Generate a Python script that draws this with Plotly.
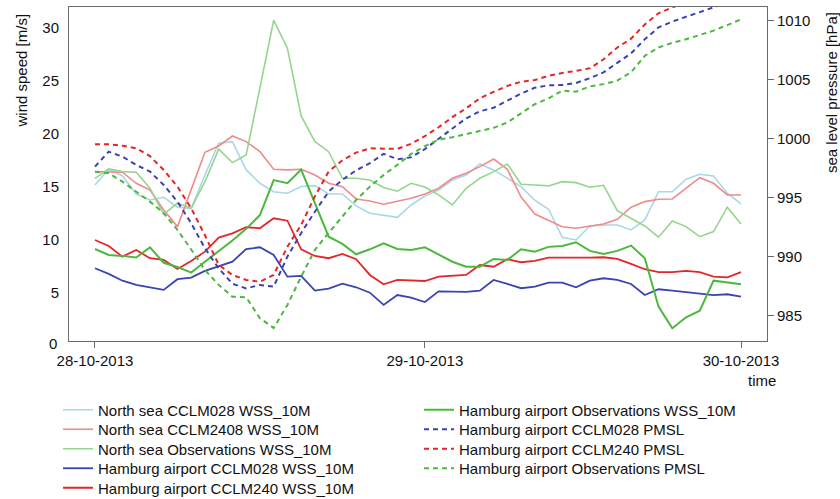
import plotly.graph_objects as go

# Hourly time steps (hours since 28-10-2013 00:00)
hours = list(range(48))
tick_hours = [0, 24, 47]
tick_labels = ["28-10-2013", "29-10-2013", "30-10-2013"]

# 10 m wind speed [m/s]
ns_cclm028_wss = [15.14, 16.62, 15.99, 14.29, 13.73, 13.98, 13.04, 12.94, 16.08, 19.08,
                  19.23, 16.56, 15.30, 14.50, 14.36, 15.00, 15.08, 14.29, 14.29, 13.16,
                  12.47, 12.25, 12.09, 13.25, 14.10, 14.67, 15.61, 16.08, 17.12, 16.56,
                  15.77, 14.98, 13.70, 12.85, 10.21, 9.95, 11.27, 11.37, 11.37, 10.90,
                  11.84, 14.50, 14.50, 15.68, 16.15, 15.99, 14.36, 13.35]
ns_cclm2408_wss = [16.40, 16.40, 16.34, 15.30, 14.67, 12.78, 11.21, 14.70, 18.23, 18.82,
                   19.76, 19.23, 18.28, 16.62, 16.56, 16.62, 16.08, 15.30, 14.98, 13.82,
                   13.63, 13.32, 13.63, 13.89, 14.29, 14.83, 15.77, 16.25, 16.87, 17.59,
                   16.62, 14.00, 12.40, 11.80, 11.20, 11.06, 11.27, 11.46, 11.90, 13.04,
                   13.57, 13.79, 13.82, 14.83, 15.83, 15.30, 14.20, 14.20]
ns_obs_wss = [15.77, 16.65, 16.40, 16.34, 14.83, 12.38, 13.42, 12.94, 15.45, 18.51,
              17.25, 17.97, 24.30, 30.70, 28.04, 21.65, 19.23, 18.28, 15.77, 15.77,
              15.61, 14.90, 14.55, 15.30, 14.95, 14.20, 13.25, 14.83, 15.77, 16.40,
              17.12, 15.21, 15.14, 15.05, 15.45, 15.36, 14.92, 15.11, 12.72, 12.00,
              11.27, 10.21, 11.75, 11.21, 10.26, 10.74, 13.04, 11.46]
ham_cclm028_wss = [7.28, 6.75, 6.11, 5.71, 5.47, 5.24, 6.25, 6.40, 7.03, 7.50,
                   7.91, 9.10, 9.26, 8.54, 6.49, 6.56, 5.17, 5.36, 5.83, 5.49,
                   4.98, 3.82, 4.76, 4.51, 4.10, 5.11, 5.05, 5.05, 5.17, 6.18,
                   5.80, 5.40, 5.55, 5.92, 5.92, 5.49, 6.11, 6.34, 6.18, 5.80,
                   4.76, 5.30, 5.17, 5.05, 4.92, 4.74, 4.83, 4.60]
ham_cclm240_wss = [9.95, 9.39, 8.38, 9.00, 8.23, 8.07, 7.22, 7.97, 8.85, 10.17,
                   10.58, 11.15, 11.06, 12.00, 11.77, 9.07, 8.44, 8.23, 8.63, 8.13,
                   6.65, 5.77, 6.18, 6.11, 6.08, 6.49, 6.56, 6.65, 7.59, 7.43,
                   8.13, 7.85, 7.97, 8.28, 8.28, 8.25, 8.28, 8.32, 8.16, 7.69,
                   7.19, 6.91, 6.91, 7.03, 6.91, 6.49, 6.43, 6.91]
ham_obs_wss = [9.10, 8.54, 8.45, 8.30, 9.25, 7.80, 7.40, 6.87, 7.90, 8.90,
               9.90, 11.00, 12.30, 15.60, 15.30, 16.60, 13.40, 10.26, 9.58, 8.60,
               9.07, 9.64, 9.10, 9.00, 9.26, 8.54, 7.90, 7.43, 7.43, 8.16,
               8.07, 9.07, 8.85, 9.30, 9.38, 9.74, 8.92, 8.63, 8.92, 9.42,
               8.23, 3.66, 1.62, 2.66, 3.28, 6.11, 5.92, 5.77]

# Mean sea level pressure [hPa]
ham_cclm028_pmsl = [997.61, 998.88, 998.46, 997.76, 997.19, 996.06, 994.65, 992.82, 990.70, 989.00,
                    987.70, 987.30, 987.60, 987.45, 990.00, 992.00, 993.80, 995.50, 996.50, 997.30,
                    997.90, 998.70, 998.24, 998.41, 999.10, 999.95, 1000.80, 1001.70, 1002.30, 1002.60,
                    1003.20, 1003.80, 1004.30, 1004.50, 1004.53, 1004.70, 1005.10, 1005.60, 1006.40, 1007.20,
                    1008.40, 1009.40, 1009.90, 1010.30, 1010.65, 1011.05, 1011.50, 1012.00]
ham_cclm240_pmsl = [999.51, 999.51, 999.38, 999.17, 998.50, 997.33, 995.92, 994.09, 991.80, 989.30,
                    988.44, 988.02, 987.87, 988.44, 990.84, 992.68, 995.10, 997.20, 998.15, 998.80,
                    999.17, 999.17, 999.11, 999.55, 1000.20, 1000.95, 1001.80, 1002.55, 1003.40, 1003.95,
                    1004.45, 1004.80, 1004.95, 1005.30, 1005.55, 1005.72, 1005.94, 1006.70, 1007.70, 1008.45,
                    1009.65, 1010.60, 1011.10, 1011.50, 1011.90, 1012.30, 1012.60, 1013.00]
ham_obs_pmsl = [997.19, 997.05, 996.34, 995.50, 994.65, 993.67, 992.25, 990.60, 988.86, 987.60,
                986.60, 986.55, 984.78, 983.95, 985.90, 988.30, 990.56, 992.00, 993.40, 994.79,
                995.92, 996.91, 997.76, 998.69, 999.35, 999.90, 1000.10, 1000.35, 1000.60, 1000.90,
                1001.35, 1002.10, 1002.90, 1003.40, 1004.05, 1003.96, 1004.40, 1004.60, 1004.90, 1005.60,
                1007.00, 1007.70, 1008.10, 1008.40, 1008.76, 1009.13, 1009.60, 1010.09]

LIGHT_BLUE = "#a9d7e8"
LIGHT_RED = "#ef8b8b"
LIGHT_GREEN = "#95d68e"
BLUE = "#3a43b2"
RED = "#e3262a"
GREEN = "#4cb83e"
FRAME = "#6a6a6a"
FONT = "Liberation Sans, Arial, Helvetica, sans-serif"

W, H = 840, 499
# legend key layout: two columns (left x), rows (centre y), in pixels
col_x = [58, 419]
row_y = [410, 429.5, 449, 468.5, 488]

fig = go.Figure()

wind_series = [
    ("North sea CCLM028 WSS_10M", ns_cclm028_wss, LIGHT_BLUE, 1.6),
    ("North sea CCLM2408 WSS_10M", ns_cclm2408_wss, LIGHT_RED, 1.6),
    ("North sea Observations WSS_10M", ns_obs_wss, LIGHT_GREEN, 1.6),
    ("Hamburg airport CCLM028 WSS_10M", ham_cclm028_wss, BLUE, 1.8),
    ("Hamburg airport CCLM240 WSS_10M", ham_cclm240_wss, RED, 1.8),
    ("Hamburg airport Observations WSS_10M", ham_obs_wss, GREEN, 2.0),
]
pmsl_series = [
    ("Hamburg airport CCLM028 PMSL", ham_cclm028_pmsl, BLUE),
    ("Hamburg airport CCLM240 PMSL", ham_cclm240_pmsl, RED),
    ("Hamburg airport Observations PMSL", ham_obs_pmsl, GREEN),
]

legend_layout = {}
slot = 0


def legend_key(idx):
    """One legend box per entry, laid out in two columns (5 + 4 rows)."""
    col, row = (0, idx) if idx < 5 else (1, idx - 5)
    key = "legend" if idx == 0 else f"legend{idx + 1}"
    legend_layout[key] = dict(
        x=col_x[col] / W, y=1 - row_y[row] / H, xref="container", yref="container",
        xanchor="left", yanchor="middle", bgcolor="rgba(0,0,0,0)",
        font=dict(family=FONT, size=15, color="#111"))
    return key


for name, vals, col, w in wind_series:
    fig.add_trace(go.Scatter(x=hours, y=vals, mode="lines", name=name,
                             line=dict(color=col, width=w),
                             legend=legend_key(slot), yaxis="y"))
    slot += 1

for name, vals, col in pmsl_series:
    fig.add_trace(go.Scatter(x=hours, y=vals, mode="lines", name=name,
                             line=dict(color=col, width=2, dash="5px,4px"),
                             legend=legend_key(slot), yaxis="y2"))
    slot += 1

fig.update_layout(
    width=W, height=H,
    margin=dict(l=69, r=73, t=7, b=158, autoexpand=False),
    paper_bgcolor="white", plot_bgcolor="white",
    font=dict(family=FONT, size=15, color="#111"),
    showlegend=True,
    xaxis=dict(range=[-1.89, 48.89], tickvals=tick_hours, ticktext=tick_labels,
               tickangle=0, ticks="outside", ticklen=6, tickcolor=FRAME,
               showline=True, linecolor=FRAME, linewidth=1, mirror=True,
               showgrid=False, zeroline=False, tickfont=dict(size=15)),
    yaxis=dict(range=[0.42, 31.93], tickvals=[0, 5, 10, 15, 20, 25, 30],
               ticks="outside", ticklen=6, tickcolor="rgba(0,0,0,0)",
               showline=True, linecolor=FRAME, linewidth=1, mirror=True,
               showgrid=False, zeroline=False, tickfont=dict(size=15)),
    yaxis2=dict(range=[982.85, 1011.13], tickvals=[985, 990, 995, 1000, 1005, 1010],
                overlaying="y", side="right", ticks="outside", ticklen=6,
                tickcolor=FRAME, showline=True, linecolor=FRAME, linewidth=1,
                showgrid=False, zeroline=False, tickfont=dict(size=15)),
    annotations=[
        # lowest wind-speed tick label sits just under the frame
        dict(text="0", xref="paper", yref="paper", x=(59 - 69) / 698,
             y=(341 - 343) / 334, xanchor="right", yanchor="middle",
             showarrow=False, font=dict(size=15)),
        dict(text="wind speed [m/s]", textangle=-90, xref="paper", yref="paper",
             x=(21 - 69) / 698, y=(341 - 70.5) / 334, xanchor="center",
             yanchor="middle", showarrow=False, font=dict(size=15)),
        dict(text="sea level pressure [hPa]", textangle=-90, xref="paper",
             yref="paper", x=(831 - 69) / 698, y=(341 - 93) / 334,
             xanchor="center", yanchor="middle", showarrow=False,
             font=dict(size=15)),
        dict(text="time", xref="paper", yref="paper", x=(762 - 69) / 698,
             y=(341 - 380) / 334, xanchor="center", yanchor="middle",
             showarrow=False, font=dict(size=15)),
    ],
    **legend_layout,
)

fig.write_html("out.html")
